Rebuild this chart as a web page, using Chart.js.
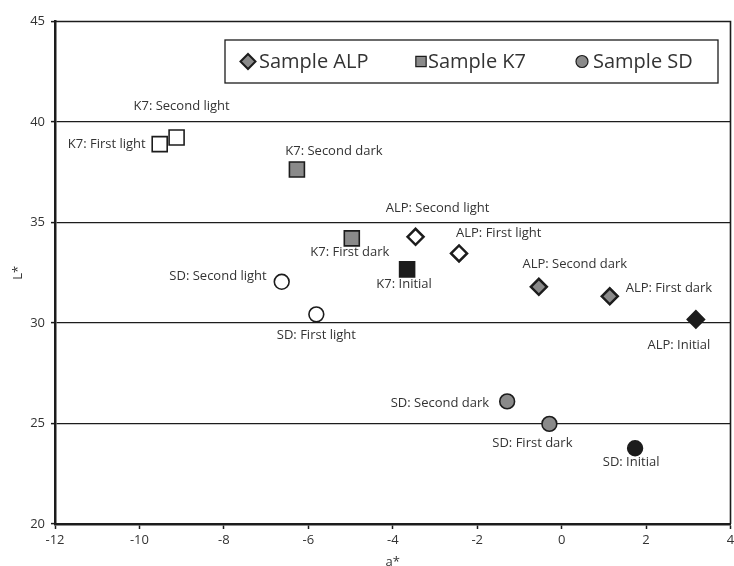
<!DOCTYPE html>
<html>
<head>
<meta charset="utf-8">
<title>L* vs a*</title>
<script src="https://cdn.jsdelivr.net/npm/chart.js@4.4.1/dist/chart.umd.min.js"></script>
<style>
  html, body { margin: 0; padding: 0; background: #fff; }
  #wrap { width: 734px; height: 566px; }
</style>
</head>
<body>
<div id="wrap"><canvas id="labChart" width="734" height="566"></canvas></div>
<script>
/* ================================================
   DATA  (a*, L* per treatment stage)
================================================ */
const stages = ['Initial', 'First dark', 'Second dark', 'First light', 'Second light'];

const alpA = [3.18, 1.14, -0.54, -2.43, -3.46];
const alpL = [30.18, 31.33, 31.80, 33.46, 34.29];

const k7A  = [-3.66, -4.97, -6.27, -9.52, -9.12];
const k7L  = [32.67, 34.21, 37.64, 38.90, 39.23];

const sdA  = [1.74, -0.29, -1.29, -5.81, -6.63];
const sdL  = [23.77, 24.98, 26.10, 30.43, 32.05];

const xTicks = [-12, -10, -8, -6, -4, -2, 0, 2, 4];
const yTicks = [20, 25, 30, 35, 40, 45];

/* ================================================
   STYLE
================================================ */
const FONT       = "'Open Sans', 'DejaVu Sans', sans-serif";
const INK        = '#1c1c1c';
const TEXT       = '#333333';
const stageFill  = ['#1c1c1c', '#8a8a8a', '#8a8a8a', '#ffffff', '#ffffff'];

// label placement: [dx, dy, align] relative to the marker centre
const labelPos = {
  ALP: [[-17, 26, 'center'], [16, -8, 'left'], [36, -23, 'center'], [-3, -20, 'left'], [22, -28, 'center']],
  K7:  [[-3, 15, 'center'], [-2, 14, 'center'], [37, -18, 'center'], [-14, 0, 'right'], [5, -31, 'center']],
  SD:  [[-4, 14, 'center'], [-17, 19, 'center'], [-18, 2, 'right'], [0, 21, 'center'], [-15, -5, 'right']],
};

function pts(xs, ys) {
  return xs.map((x, i) => ({ x, y: ys[i] }));
}

function series(key, label, xs, ys, style, radius, bw) {
  return {
    key,
    label,
    data: pts(xs, ys),
    pointStyle: style,
    pointRadius: radius,
    pointHoverRadius: radius,
    pointBackgroundColor: stageFill,
    pointBorderColor: INK,
    pointBorderWidth: bw,
    showLine: false,
  };
}

/* ================================================
   PLUGINS
================================================ */
// thin frame on the top and right edges of the plot
const framePlugin = {
  id: 'frame',
  afterDraw(chart) {
    const { ctx, chartArea: a } = chart;
    ctx.save();
    ctx.strokeStyle = INK;
    ctx.lineWidth = 1.6;
    ctx.beginPath();
    ctx.moveTo(a.left, a.top);
    ctx.lineTo(a.right, a.top);
    ctx.lineTo(a.right, a.bottom);
    ctx.stroke();
    ctx.restore();
  },
};

// "ALP: Initial" style tags next to each marker
const pointLabels = {
  id: 'pointLabels',
  afterDatasetsDraw(chart) {
    const { ctx } = chart;
    ctx.save();
    ctx.font = `13px ${FONT}`;
    ctx.fillStyle = TEXT;
    ctx.textBaseline = 'middle';
    chart.data.datasets.forEach((ds, di) => {
      const meta = chart.getDatasetMeta(di);
      meta.data.forEach((el, i) => {
        const [dx, dy, align] = labelPos[ds.key][i];
        ctx.textAlign = align;
        ctx.fillText(`${ds.key}: ${stages[i]}`, el.x + dx, el.y + dy);
      });
    });
    ctx.restore();
  },
};

// boxed legend inside the plot, one row
const boxLegend = {
  id: 'boxLegend',
  afterDraw(chart) {
    const { ctx } = chart;
    const box = { x: 225, y: 40, w: 493, h: 43 };
    const cy = box.y + box.h / 2;
    const items = [
      { ds: 0, mx: 248, tx: 259, r: 7.5 },
      { ds: 1, mx: 421, tx: 428, r: 7.3 },
      { ds: 2, mx: 582, tx: 593, r: 6 },
    ];
    ctx.save();
    ctx.fillStyle = '#fff';
    ctx.fillRect(box.x, box.y, box.w, box.h);
    ctx.strokeStyle = INK;
    ctx.lineWidth = 1.3;
    ctx.strokeRect(box.x, box.y, box.w, box.h);

    ctx.font = `20px ${FONT}`;
    ctx.textAlign = 'left';
    ctx.textBaseline = 'middle';
    items.forEach(it => {
      const ds = chart.data.datasets[it.ds];
      ctx.fillStyle = '#8a8a8a';
      ctx.strokeStyle = INK;
      ctx.lineWidth = ds.pointStyle === 'rectRot' ? 2 : 1.2;
      Chart.helpers.drawPoint(ctx, { pointStyle: ds.pointStyle, radius: it.r, borderWidth: ctx.lineWidth }, it.mx, cy);
      ctx.fillStyle = TEXT;
      ctx.fillText(ds.label, it.tx, cy + 1);
    });
    ctx.restore();
  },
};

/* ================================================
   CHART
================================================ */
const chart = new Chart(document.getElementById('labChart'), {
  type: 'scatter',
  data: {
    datasets: [
      series('ALP', 'Sample ALP', alpA, alpL, 'rectRot', 8, 2.5),
      series('K7',  'Sample K7',  k7A,  k7L,  'rect',   10.6, 1.6),
      series('SD',  'Sample SD',  sdA,  sdL,  'circle', 7.4, 1.6),
    ],
  },
  options: {
    responsive: false,
    animation: false,
    layout: { autoPadding: false, padding: { top: 21.5, right: 3.5, left: 0, bottom: 0 } },
    plugins: {
      legend: { display: false },
      tooltip: { enabled: false },
    },
    scales: {
      x: {
        type: 'linear',
        min: -12,
        max: 4,
        afterBuildTicks: s => { s.ticks = xTicks.map(v => ({ value: v })); },
        afterFit: s => { s.height = 42; s.paddingLeft = 0; s.paddingRight = 0; },
        ticks: { color: TEXT, font: { family: FONT, size: 13 }, padding: 3 },
        grid: { drawOnChartArea: false, tickLength: 5, tickColor: INK, tickWidth: 1.5 },
        border: { color: INK, width: 2.5 },
        title: { display: true, text: 'a*', color: TEXT, font: { family: FONT, size: 13 }, padding: { top: 0, bottom: -4 } },
      },
      y: {
        type: 'linear',
        min: 20,
        max: 45,
        afterBuildTicks: s => { s.ticks = yTicks.map(v => ({ value: v })); },
        afterFit: s => { s.width = 55; s.paddingTop = 0; s.paddingBottom = 0; },
        ticks: { color: TEXT, font: { family: FONT, size: 13 }, padding: 6 },
        grid: {
          color: c => (c.tick && c.tick.value > 20 && c.tick.value < 45) ? INK : 'rgba(0,0,0,0)',
          lineWidth: 1.2,
          tickLength: 4,
          tickColor: INK,
          tickWidth: 1.5,
        },
        border: { color: INK, width: 2.5 },
        title: { display: true, text: 'L*', color: TEXT, font: { family: FONT, size: 13 }, padding: { top: 10, bottom: 0 } },
      },
    },
  },
  plugins: [framePlugin, pointLabels, boxLegend],
});
</script>
</body>
</html>
